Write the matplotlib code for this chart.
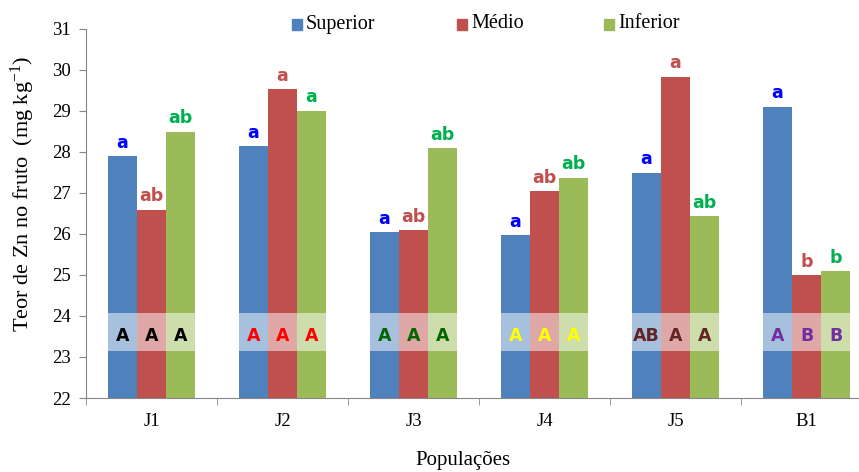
import numpy as np
import matplotlib
matplotlib.use("Agg")
import matplotlib.pyplot as plt
from matplotlib.patches import Rectangle

plt.rcParams['font.family'] = ['Liberation Serif', 'DejaVu Serif']
plt.rcParams['mathtext.fontset'] = 'custom'
plt.rcParams['mathtext.rm'] = 'Liberation Serif'
plt.rcParams['mathtext.it'] = 'Liberation Serif:italic'

# data
populacoes = ['J1', 'J2', 'J3', 'J4', 'J5', 'B1']
superior = [27.89, 28.13, 26.05, 25.96, 27.49, 29.10]
medio = [26.59, 29.52, 26.09, 27.03, 29.83, 25.00]
inferior = [28.49, 29.00, 28.08, 27.37, 26.44, 25.09]

let_sup = ['a', 'a', 'a', 'a', 'a', 'a']
let_med = ['ab', 'a', 'ab', 'ab', 'a', 'b']
let_inf = ['ab', 'a', 'ab', 'ab', 'ab', 'b']

# upper case letters inside the band, one row per population
cap_sup = ['A', 'A', 'A', 'A', 'AB', 'A']
cap_med = ['A', 'A', 'A', 'A', 'A', 'B']
cap_inf = ['A', 'A', 'A', 'A', 'A', 'B']
cap_colors = ['#000000', '#FF0000', '#006600', '#FFFF00', '#632523', '#7030A0']

bar_colors = ['#4F81BD', '#C0504D', '#9BBB59']
let_colors = ['#0000FF', '#C0504D', '#00B050']
names = ['Superior', 'Médio', 'Inferior']

fig = plt.figure(figsize=(8.59, 4.72), dpi=100)
ax = fig.add_axes([86/859, 1-398/472, 786/859, 369.5/472])

x = np.arange(len(populacoes))
w = 0.222
series = [superior, medio, inferior]
lows = [let_sup, let_med, let_inf]
caps = [cap_sup, cap_med, cap_inf]
bold = ['DejaVu Sans']

for k in range(3):
    pos = x + (k - 1) * w
    vals = np.array(series[k])
    ax.bar(pos, vals - 22, bottom=22, width=w, color=bar_colors[k], zorder=1)
    for i in range(len(x)):
        ax.annotate(lows[k][i], (pos[i], vals[i]), xytext=(0, 3), textcoords='offset points',
                    ha='center', va='bottom', fontsize=12.5, fontweight='bold',
                    family=bold, color=let_colors[k], zorder=4)
        ax.text(pos[i], 23.5, caps[k][i], ha='center', va='center', fontsize=12.5,
                fontweight='bold', family=bold, color=cap_colors[i], zorder=4)

ax.axhspan(23.15, 24.07, color='white', alpha=0.5, lw=0, zorder=1.5)

ax.set_xlim(-0.5, len(x) - 0.5)
ax.set_ylim(22, 31)
ax.set_yticks(range(22, 32))
ax.set_xticks(x)
ax.set_xticklabels(populacoes)
ax.set_xticks(np.arange(-0.5, len(x)), minor=True)
ax.tick_params(axis='x', which='major', length=0, labelsize=13.5, pad=11)
ax.tick_params(axis='x', which='minor', length=5, color='#868686', direction='out')
ax.tick_params(axis='y', length=5, color='#868686', labelsize=13.5, pad=6)

for s in ['top', 'right']:
    ax.spines[s].set_visible(False)
for s in ['left', 'bottom']:
    ax.spines[s].set_color('#868686')

fig.text(23/859, 1-194/472, 'Teor de Zn no fruto  (mg kg$^{-1}$)', rotation=90,
         ha='center', va='center', fontsize=16)
fig.text(463/859, 1-460/472, 'Populações', ha='center', va='center', fontsize=15)

# legend drawn by hand in figure pixels
leg_x = [292, 457, 604]
for k in range(3):
    fig.patches.append(Rectangle((leg_x[k]/859, 1-30/472), 10/859, 11/472,
                                 transform=fig.transFigure, color=bar_colors[k]))
    fig.text((leg_x[k] + 14)/859, 1-24/472, names[k], ha='left', va='center', fontsize=14.5)

fig.savefig('out.png', dpi=100)
